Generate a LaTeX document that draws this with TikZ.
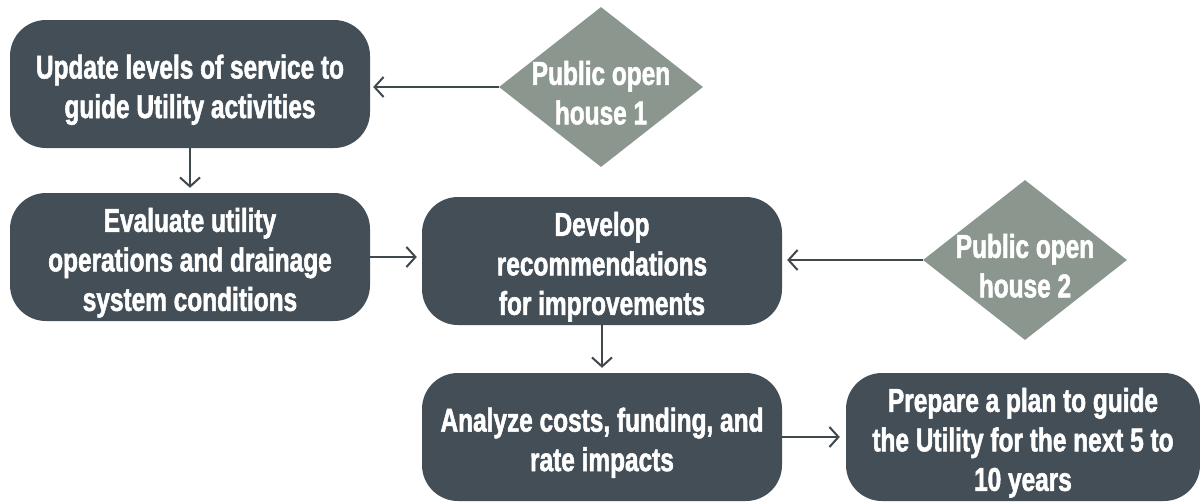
\documentclass[tikz,border=0pt]{standalone}
\usepackage{fontspec}
\usetikzlibrary{shapes.geometric,arrows.meta}
\newfontfamily\condfont{Liberation Sans}[UprightFont={* Bold}, FakeStretch=0.74, FakeBold=1.6]
\definecolor{slatebox}{HTML}{434E56}
\definecolor{sagediam}{HTML}{8B978E}
\definecolor{arrowgray}{HTML}{3E484D}
% zero-width strut that lowers a text block slightly
\newcommand{\lowerstrut}{\rule{0pt}{35.5pt}}
\begin{document}
\begin{tikzpicture}[x=1pt,y=-1pt,
  labelfont/.style={font=\condfont\fontsize{33}{39.5}\selectfont},
  stepbox/.style={rectangle, rounded corners=36pt, fill=slatebox, draw=none,
    minimum width=360pt, minimum height=128pt, inner sep=0pt,
    text=white, align=center, labelfont},
  diam/.style={diamond, fill=sagediam, draw=none, inner sep=0pt,
    minimum width=204pt, minimum height=160pt, aspect=1.275},
  diamtext/.style={text=white, align=center, inner sep=0pt, labelfont},
  arr/.style={draw=arrowgray, line width=2pt,
    -{Straight Barb[length=9pt,width=20pt,line width=2pt]}}
]
\useasboundingbox (0,0) rectangle (1200,501);

% process steps
\node[stepbox] (b1) at (190,84)  {\lowerstrut Update levels of service to\\guide Utility activities};
\node[stepbox] (b2) at (190,257) {\lowerstrut Evaluate utility\\operations and drainage\\system conditions};
\node[stepbox] (b3) at (602,261) {\lowerstrut Develop\\recommendations\\for improvements};
\node[stepbox] (b4) at (602,437) {\lowerstrut Analyze costs, funding, and\\rate impacts};
\node[stepbox, minimum width=354pt] (b5) at (1023,437) {\lowerstrut Prepare a plan to guide\\the Utility for the next 5 to\\10 years};

% public engagement milestones
\node[diam] (d1) at (601,87) {};
\node[diamtext] (d1t) at (d1) {\lowerstrut Public open\\house 1};
\node[diam] (d2) at (1025,260) {};
\node[diamtext] (d2t) at (d2) {\lowerstrut Public open\\house 2};

% connectors
\draw[arr, shorten >=3pt] (d1.west) -- (d1.west -| b1.east);
\draw[arr, shorten >=5pt] (b1.south) -- (b2.north);
\draw[arr, shorten >=5pt] (b2.east) -- (b2.east -| b3.west);
\draw[arr, shorten >=5pt] (d2.west) -- (d2.west -| b3.east);
\draw[arr, shorten >=5pt] (b3.south) -- (b4.north);
\draw[arr, shorten >=6pt] (b4.east) -- (b5.west);
\end{tikzpicture}
\end{document}
